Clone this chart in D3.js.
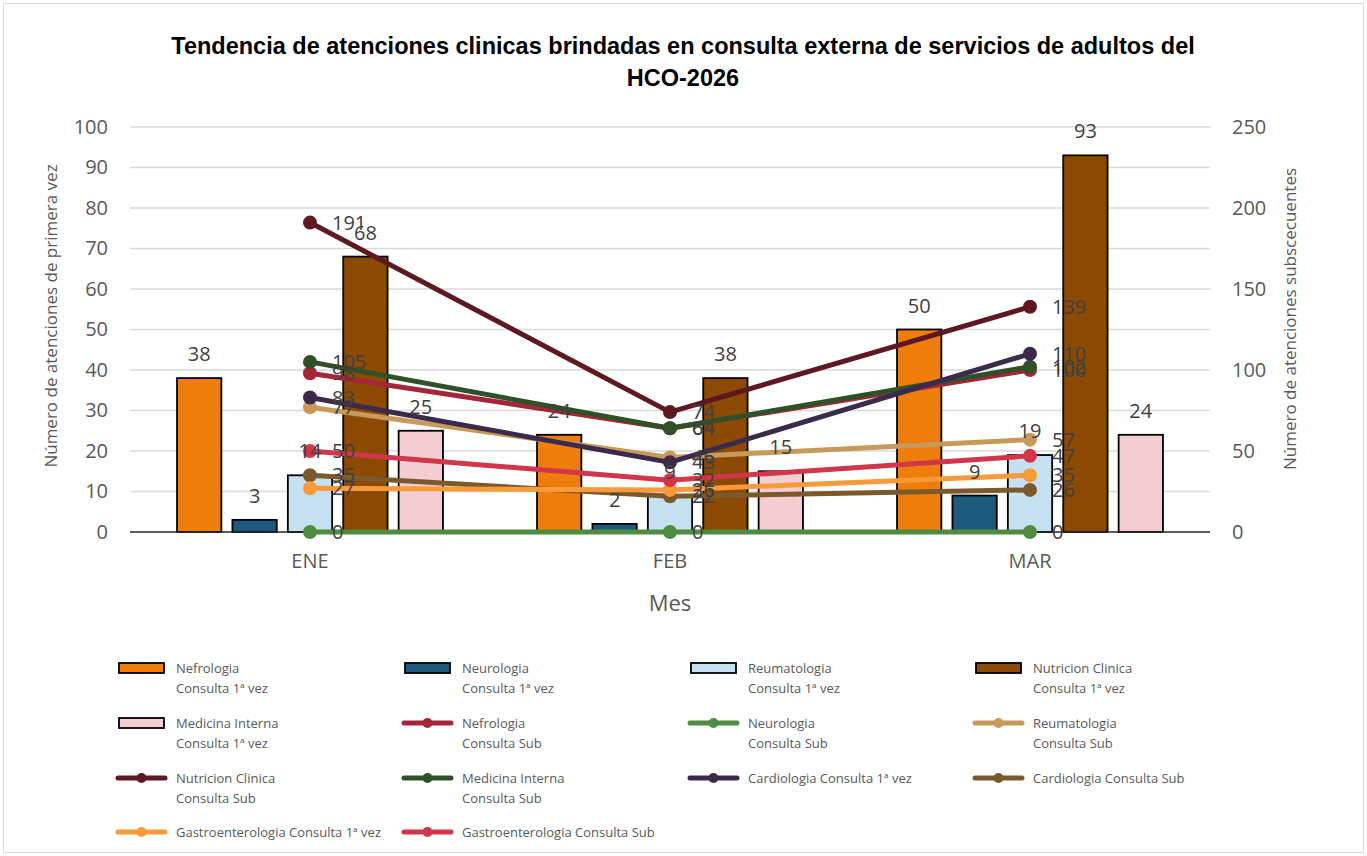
<!DOCTYPE html>
<html>
<head>
<meta charset="utf-8">
<script src="https://cdn.jsdelivr.net/npm/d3@7"></script>
<style>
  body { margin: 0; background: #fff; }
  text { font-family: "Open Sans", "Liberation Sans", sans-serif; }
</style>
</head>
<body>
<div id="chart"></div>
<script>
(function(){

  var width = 1367, height = 856;

  // data
  var months = ["ENE", "FEB", "MAR"];

  var barSeries = [
    {name: "Nefrologia\nConsulta 1ª vez", color: "#ef7d0a", values: [38, 24, 50]},
    {name: "Neurologia\nConsulta 1ª vez", color: "#1d5a7e", values: [3, 2, 9]},
    {name: "Reumatologia\nConsulta 1ª vez", color: "#c4e0f1", values: [14, 9, 19]},
    {name: "Nutricion Clinica\nConsulta 1ª vez", color: "#8c4a05", values: [68, 38, 93]},
    {name: "Medicina Interna\nConsulta 1ª vez", color: "#f2cdd2", values: [25, 15, 24]}
  ];

  var lineSeries = [
    {name: "Nefrologia\nConsulta Sub", color: "#a62639", values: [98, 64, 100]},
    {name: "Neurologia\nConsulta Sub", color: "#4f8b41", values: [0, 0, 0]},
    {name: "Reumatologia\nConsulta Sub", color: "#c79a5c", values: [77, 46, 57]},
    {name: "Nutricion Clinica\nConsulta Sub", color: "#5e1821", values: [191, 74, 139]},
    {name: "Medicina Interna\nConsulta Sub", color: "#2f5128", values: [105, 64, 102]},
    {name: "Cardiologia Consulta 1ª vez", color: "#3b2a4b", values: [83, 43, 110]},
    {name: "Cardiologia Consulta Sub", color: "#7a5a2c", values: [35, 22, 26]},
    {name: "Gastroenterologia Consulta 1ª vez", color: "#f89a3a", values: [27, 26, 35]},
    {name: "Gastroenterologia Consulta Sub", color: "#d0374a", values: [50, 32, 47]}
  ];

  var leftTicks = [0, 10, 20, 30, 40, 50, 60, 70, 80, 90, 100];
  var rightTicks = [0, 50, 100, 150, 200, 250];

  var plot = {left: 130, right: 1210, top: 127, bottom: 532};

  var svg = d3.select("#chart").append("svg")
      .attr("width", width)
      .attr("height", height);

  svg.append("rect")
      .attr("x", 3.5).attr("y", 3.5)
      .attr("width", width - 7).attr("height", height - 7)
      .attr("fill", "#fff")
      .attr("stroke", "#d9d9d9");

  // title
  var titleLines = ["Tendencia de atenciones clinicas brindadas en consulta externa de servicios de adultos del", "HCO-2026"];
  svg.append("g")
    .selectAll("text")
    .data(titleLines)
    .enter().append("text")
      .attr("x", 683)
      .attr("y", function(d, i){ return 54 + i * 32; })
      .attr("text-anchor", "middle")
      .style("font-family", "'Liberation Sans', sans-serif")
      .style("font-weight", "bold")
      .style("font-size", "23.5px")
      .attr("fill", "#000")
      .text(function(d){ return d; });

  var x0 = d3.scaleBand()
      .domain(months)
      .range([plot.left, plot.right]);

  var groupW = 277;
  var x1 = d3.scaleBand()
      .domain(d3.range(barSeries.length))
      .range([0, groupW])
      .paddingInner(0.2)
      .paddingOuter(0.1);

  var yL = d3.scaleLinear().domain([0, 100]).range([plot.bottom, plot.top]);
  var yR = d3.scaleLinear().domain([0, 250]).range([plot.bottom, plot.top]);

  // gridlines
  svg.append("g")
    .selectAll("line")
    .data(leftTicks.slice(1))
    .enter().append("line")
      .attr("x1", plot.left).attr("x2", plot.right)
      .attr("y1", function(d){ return yL(d); })
      .attr("y2", function(d){ return yL(d); })
      .attr("stroke", "#d9d9d9")
      .attr("stroke-width", 1.5);

  // axes (tick labels only)
  var axL = svg.append("g")
      .attr("transform", "translate(" + plot.left + ",0)")
      .call(d3.axisLeft(yL).tickValues(leftTicks).tickSize(0).tickPadding(22));
  axL.select(".domain").remove();
  axL.selectAll("text")
      .style("font-size", "20px")
      .attr("fill", "#595959");

  var axR = svg.append("g")
      .attr("transform", "translate(" + plot.right + ",0)")
      .call(d3.axisRight(yR).tickValues(rightTicks).tickSize(0).tickPadding(22));
  axR.select(".domain").remove();
  axR.selectAll("text")
      .style("font-size", "20px")
      .attr("fill", "#595959");

  var axB = svg.append("g")
      .attr("transform", "translate(0," + plot.bottom + ")")
      .call(d3.axisBottom(x0).tickSize(0).tickPadding(22));
  axB.select(".domain").remove();
  axB.selectAll("text")
      .style("font-size", "20px")
      .attr("fill", "#595959");

  // axis titles
  svg.append("text")
      .attr("transform", "translate(57,316) rotate(-90)")
      .attr("text-anchor", "middle")
      .style("font-size", "17px")
      .attr("fill", "#595959")
      .text("Número de atenciones de primera vez");
  svg.append("text")
      .attr("transform", "translate(1296,319) rotate(-90)")
      .attr("text-anchor", "middle")
      .style("font-size", "17px")
      .attr("fill", "#595959")
      .text("Número de atenciones subscecuentes");
  svg.append("text")
      .attr("x", (plot.left + plot.right) / 2).attr("y", 611)
      .attr("text-anchor", "middle")
      .style("font-size", "22px")
      .attr("fill", "#595959")
      .text("Mes");

  // bars
  var groups = svg.append("g")
    .selectAll("g")
    .data(months)
    .enter().append("g")
      .attr("transform", function(d){
        return "translate(" + (x0(d) + (x0.bandwidth() - groupW) / 2) + ",0)";
      });

  groups.selectAll("rect")
    .data(function(m, i){
      return barSeries.map(function(s, k){ return {k: k, v: s.values[i], color: s.color}; });
    })
    .enter().append("rect")
      .attr("x", function(d){ return x1(d.k); })
      .attr("width", x1.bandwidth())
      .attr("y", function(d){ return yL(d.v); })
      .attr("height", function(d){ return yL(0) - yL(d.v); })
      .attr("fill", function(d){ return d.color; })
      .attr("stroke", "#000")
      .attr("stroke-width", 1.8);

  // zero axis line
  svg.append("line")
      .attr("x1", plot.left).attr("x2", plot.right)
      .attr("y1", plot.bottom).attr("y2", plot.bottom)
      .attr("stroke", "#262626")
      .attr("stroke-width", 1.5);

  // lines
  var xc = function(i){ return x0(months[i]) + x0.bandwidth() / 2; };
  var line = d3.line()
      .x(function(d, i){ return xc(i); })
      .y(function(d){ return yR(d); });

  lineSeries.forEach(function(s){
    var g = svg.append("g");
    g.append("path")
        .datum(s.values)
        .attr("d", line)
        .attr("fill", "none")
        .attr("stroke", s.color)
        .attr("stroke-width", 5)
        .attr("stroke-linecap", "round")
        .attr("stroke-linejoin", "round");
    g.selectAll("circle")
      .data(s.values)
      .enter().append("circle")
        .attr("cx", function(d, i){ return xc(i); })
        .attr("cy", function(d){ return yR(d); })
        .attr("r", 7)
        .attr("fill", s.color);
  });

  // data labels
  var labels = svg.append("g");
  groups.each(function(m, i){
    var off = x0(m) + (x0.bandwidth() - groupW) / 2;
    barSeries.forEach(function(s, k){
      labels.append("text")
          .attr("x", off + x1(k) + x1.bandwidth() / 2)
          .attr("y", yL(s.values[i]) - 17)
          .attr("text-anchor", "middle")
          .style("font-size", "20px")
          .attr("fill", "#404040")
          .text(s.values[i]);
    });
  });
  lineSeries.forEach(function(s){
    s.values.forEach(function(v, i){
      labels.append("text")
          .attr("x", xc(i) + 22)
          .attr("y", yR(v) + 7)
          .style("font-size", "20px")
          .attr("fill", "#404040")
          .text(v);
    });
  });

  // legend
  var legendItems = barSeries.map(function(s){ return {name: s.name, color: s.color, type: "bar"}; })
    .concat(lineSeries.map(function(s){ return {name: s.name, color: s.color, type: "line"}; }));

  var colX = [118, 404, 690, 975];
  var rowY = [668, 723, 778, 832];

  var legend = svg.append("g");
  legendItems.forEach(function(d, i){
    var cx = colX[i % 4], cy = rowY[Math.floor(i / 4)];
    var item = legend.append("g").attr("transform", "translate(" + cx + "," + cy + ")");
    if (d.type === "bar") {
      item.append("rect")
          .attr("x", 1).attr("y", -5)
          .attr("width", 45).attr("height", 10)
          .attr("fill", d.color)
          .attr("stroke", "#000")
          .attr("stroke-width", 1.8);
    } else {
      item.append("line")
          .attr("x1", 0).attr("x2", 47)
          .attr("y1", 0).attr("y2", 0)
          .attr("stroke", d.color)
          .attr("stroke-width", 5)
          .attr("stroke-linecap", "round");
      item.append("circle")
          .attr("cx", 23.5).attr("cy", 0).attr("r", 5)
          .attr("fill", d.color);
    }
    d.name.split("\n").forEach(function(t, j){
      item.append("text")
          .attr("x", 58).attr("y", 5 + j * 20)
          .style("font-size", "13px")
          .attr("fill", "#595959")
          .text(t);
    });
  });

})();
</script>
</body>
</html>
